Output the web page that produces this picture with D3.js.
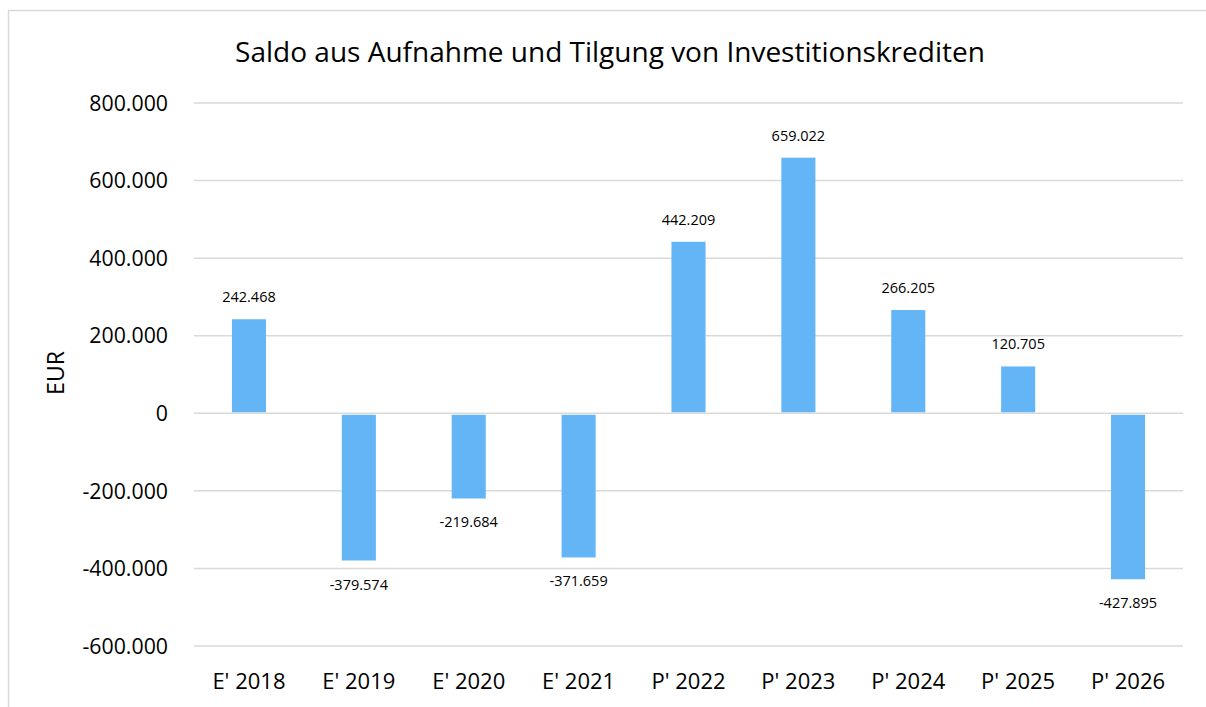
<!DOCTYPE html>
<html>
<head>
<meta charset="utf-8">
<script src="https://cdn.jsdelivr.net/npm/d3@7"></script>
<style>
  body { margin: 0; background: #fff; }
  svg { font-family: "Open Sans", "Noto Sans", sans-serif; }
</style>
</head>
<body>
<svg id="main" width="1206" height="707"></svg>
<script>
"use strict";

// data
const categories = ["E' 2018", "E' 2019", "E' 2020", "E' 2021", "P' 2022", "P' 2023", "P' 2024", "P' 2025", "P' 2026"];
const values = [242468, -379574, -219684, -371659, 442209, 659022, 266205, 120705, -427895];
const yTicks = [-600000, -400000, -200000, 0, 200000, 400000, 600000, 800000];

const titleText = "Saldo aus Aufnahme und Tilgung von Investitionskrediten";
const yLabel = "EUR";

// layout
const margin = { left: 194, right: 23, top: 103, bottom: 61 };
const width = 1206, height = 707;

const mySvg = d3.select("#main");

// de-DE number format: dot thousands
const fmt = (v) => {
  const s = d3.format(",")(Math.abs(v)).replace(/,/g, ".");
  return (v < 0 ? "-" : "") + s;
};

// chart border
mySvg.append("rect")
  .attr("x", 8.5).attr("y", 10.5)
  .attr("width", 1210).attr("height", 720)
  .attr("fill", "none")
  .attr("stroke", "#d9d9d9")
  .attr("stroke-width", 1.5);

const x = d3.scaleBand()
  .domain(categories)
  .range([margin.left, width - margin.right])
  .paddingInner(0.69)
  .paddingOuter(0.345);

const y = d3.scaleLinear()
  .domain([-600000, 800000])
  .range([646, margin.top]);

// grid
mySvg.append("g")
  .selectAll("line")
  .data(yTicks)
  .enter().append("line")
  .attr("x1", margin.left)
  .attr("x2", width - margin.right)
  .attr("y1", (d) => y(d))
  .attr("y2", (d) => y(d))
  .attr("stroke", "#d9d9d9")
  .attr("stroke-width", 1.5);

// y tick labels
mySvg.append("g")
  .selectAll("text")
  .data(yTicks)
  .enter().append("text")
  .attr("x", 168)
  .attr("y", (d) => y(d))
  .attr("dy", "0.36em")
  .attr("text-anchor", "end")
  .attr("font-size", 21.3)
  .attr("fill", "#000")
  .text((d) => fmt(d));

// bars
mySvg.append("g")
  .selectAll("rect")
  .data(values)
  .enter().append("rect")
  .attr("x", (d, i) => x(categories[i]))
  .attr("width", x.bandwidth())
  .attr("y", (d) => d >= 0 ? y(d) : y(0) + 1.5)
  .attr("height", (d) => d >= 0 ? y(0) - 1 - y(d) : y(d) - y(0) - 1.5)
  .attr("fill", "#64b5f6");

// value labels
mySvg.append("g")
  .selectAll("text")
  .data(values)
  .enter().append("text")
  .attr("x", (d, i) => x(categories[i]) + x.bandwidth() / 2)
  .attr("y", (d) => d >= 0 ? y(d) - 17 : y(d) + 29)
  .attr("text-anchor", "middle")
  .attr("font-size", 14.5)
  .attr("fill", "#000")
  .text((d) => fmt(d));

// x labels
mySvg.append("g")
  .selectAll("text")
  .data(categories)
  .enter().append("text")
  .attr("x", (d) => x(d) + x.bandwidth() / 2)
  .attr("y", 689)
  .attr("text-anchor", "middle")
  .attr("font-size", 22)
  .attr("fill", "#000")
  .text((d) => d);

// title
mySvg.append("text")
  .attr("x", 610)
  .attr("y", 62)
  .attr("text-anchor", "middle")
  .attr("font-size", 28)
  .attr("fill", "#000")
  .text(titleText);

// y axis title
mySvg.append("text")
  .attr("transform", "translate(63.5,373) rotate(-90)")
  .attr("text-anchor", "middle")
  .attr("font-size", 23)
  .attr("fill", "#000")
  .text(yLabel);
</script>
</body>
</html>
